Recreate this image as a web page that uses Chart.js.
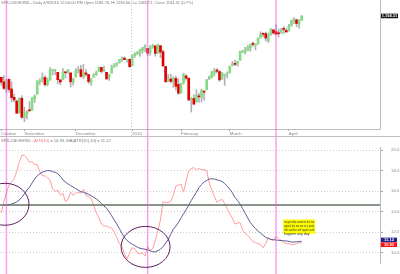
<!DOCTYPE html>
<html><head><meta charset="utf-8">
<script src="https://cdn.jsdelivr.net/npm/chart.js@4/dist/chart.umd.min.js"></script>
<style>
html,body{margin:0;padding:0;background:#fff;width:400px;height:274px;overflow:hidden}
canvas{position:absolute;left:0}
#top{top:0}#bot{top:137px}
</style></head><body>
<canvas id="top" width="400" height="137"></canvas>
<canvas id="bot" width="400" height="137"></canvas>
<script>
// ---------------- DATA ----------------
const dates = [
'10/20','10/21','10/22','10/23','10/26','10/27','10/28','10/29','10/30',
'11/2','11/3','11/4','11/5','11/6','11/9','11/10','11/11','11/12','11/13','11/16','11/17','11/18','11/19','11/20','11/23','11/24','11/25','11/27','11/30',
'12/1','12/2','12/3','12/4','12/7','12/8','12/9','12/10','12/11','12/14','12/15','12/16','12/17','12/18','12/21','12/22','12/23','12/24','12/28','12/29','12/30','12/31',
'1/4','1/5','1/6','1/7','1/8','1/11','1/12','1/13','1/14','1/15','1/19','1/20','1/21','1/22','1/25','1/26','1/27','1/28','1/29',
'2/1','2/2','2/3','2/4','2/5','2/8','2/9','2/10','2/11','2/12','2/16','2/17','2/18','2/19','2/22','2/23','2/24','2/25','2/26',
'3/1','3/2','3/3','3/4','3/5','3/8','3/9','3/10','3/11','3/12','3/15','3/16','3/17','3/18','3/19','3/22','3/23','3/24','3/25','3/26','3/29','3/30','3/31',
'4/1','4/5','4/6','4/7','4/8','4/9'];
const opens = [
1098.6,1091.4,1080.4,1095.6,1080.4,1067.5,1061.5,1043.0,1066.0,
1036.2,1040.9,1047.3,1047.3,1064.9,1072.3,1091.9,1096.0,1098.3,1087.6,1094.1,1109.2,1109.4,1106.4,1094.7,1094.9,1105.8,1106.5,1105.5,1091.1,
1098.9,1109.0,1110.6,1100.4,1105.5,1103.0,1091.1,1098.7,1103.1,1107.8,1114.1,1108.6,1106.4,1097.9,1105.3,1114.5,1118.8,1121.1,1127.5,1128.6,1125.5,1126.6,
1116.6,1132.7,1135.7,1136.3,1140.5,1146.0,1143.8,1137.3,1145.7,1147.7,1136.0,1148.0,1138.7,1115.5,1092.4,1095.8,1091.9,1096.9,1087.6,
1073.9,1090.1,1100.7,1097.3,1064.1,1065.5,1060.1,1069.7,1067.1,1076.0,1079.1,1096.1,1099.0,1105.5,1110.0,1107.5,1095.9,1101.2,1103.1,
1105.4,1117.0,1119.4,1119.1,1125.1,1138.4,1137.6,1140.2,1144.0,1151.7,1148.5,1150.8,1159.9,1166.1,1166.7,1155.4,1166.5,1172.7,1170.0,1167.6,1167.7,1173.8,1171.8,
1171.2,1178.7,1186.0,1188.2,1181.8,1187.5];
const highs = [
1098.6,1101.4,1095.2,1095.8,1091.8,1072.5,1063.3,1066.8,1070.0,
1052.2,1046.4,1061.0,1066.6,1071.5,1093.2,1096.4,1105.4,1101.2,1097.8,1113.7,1110.8,1111.1,1106.4,1094.7,1112.4,1107.6,1111.2,1105.5,1097.2,
1112.3,1115.6,1117.3,1119.1,1110.7,1103.0,1097.0,1104.3,1108.5,1114.8,1114.1,1116.2,1106.4,1103.7,1117.7,1120.3,1121.6,1126.5,1130.4,1130.4,1126.4,1127.6,
1133.9,1136.6,1139.2,1142.5,1145.4,1149.7,1143.8,1148.4,1150.4,1147.8,1150.5,1148.0,1141.6,1115.5,1103.0,1103.7,1099.5,1100.2,1096.5,
1089.4,1104.7,1102.7,1097.3,1067.1,1071.2,1079.3,1073.7,1080.0,1077.8,1095.0,1101.0,1108.2,1112.4,1112.3,1108.6,1106.4,1103.5,1107.2,
1116.1,1123.5,1125.6,1123.7,1139.4,1141.1,1145.4,1148.3,1150.2,1153.4,1151.0,1160.3,1169.8,1167.8,1169.2,1167.8,1174.7,1173.0,1180.7,1173.9,1174.9,1177.8,1174.6,
1181.4,1187.7,1191.8,1189.6,1188.6,1194.7];
const lows = [
1086.2,1079.6,1074.3,1075.5,1060.2,1060.6,1042.2,1043.0,1034.3,
1029.4,1033.9,1045.2,1047.3,1059.3,1072.3,1087.4,1091.0,1084.7,1085.3,1094.1,1102.2,1102.7,1088.4,1087.0,1094.9,1097.6,1104.8,1083.7,1086.3,
1098.9,1105.3,1098.7,1096.5,1100.8,1088.6,1085.9,1098.7,1101.3,1107.8,1105.4,1107.9,1095.9,1093.9,1105.3,1114.5,1116.0,1121.1,1123.5,1126.2,1121.9,1114.8,
1116.6,1129.7,1133.9,1131.3,1136.2,1138.7,1131.8,1133.2,1143.8,1131.4,1135.8,1129.3,1114.8,1090.2,1092.4,1089.9,1083.1,1078.5,1071.6,
1073.9,1088.0,1094.0,1062.8,1044.5,1056.5,1060.1,1059.3,1060.1,1063.0,1079.1,1094.7,1097.5,1100.8,1105.4,1092.2,1095.5,1086.0,1097.6,
1105.4,1116.5,1116.6,1116.1,1125.1,1136.8,1134.9,1140.1,1139.0,1147.0,1141.5,1150.4,1159.9,1161.9,1155.3,1152.9,1163.8,1166.0,1165.1,1161.5,1167.7,1166.6,1168.7,
1170.7,1178.7,1182.8,1177.3,1175.1,1187.2];
const closes = [
1091.1,1081.4,1092.9,1079.6,1067.0,1063.4,1042.6,1066.1,1036.2,
1042.9,1045.4,1046.5,1066.6,1069.3,1093.1,1093.0,1098.5,1087.2,1093.5,1109.3,1110.3,1109.8,1094.9,1091.4,1106.2,1105.7,1110.6,1091.5,1095.6,
1108.9,1109.2,1099.9,1106.0,1103.3,1091.9,1096.0,1102.4,1106.4,1114.1,1107.9,1109.2,1096.1,1102.5,1114.1,1118.0,1120.6,1126.5,1127.8,1126.2,1126.4,1115.1,
1133.0,1136.5,1137.1,1141.7,1145.0,1147.0,1136.2,1145.7,1148.5,1136.0,1150.2,1138.0,1116.5,1091.8,1096.8,1092.2,1097.5,1084.5,1073.9,
1089.2,1103.3,1097.3,1063.1,1066.2,1056.7,1070.5,1068.1,1078.5,1075.5,1094.9,1099.5,1106.8,1109.2,1108.0,1094.6,1105.2,1102.9,1104.5,
1115.7,1118.3,1118.8,1123.0,1138.7,1138.5,1140.5,1145.6,1150.2,1150.0,1150.5,1159.5,1166.2,1165.8,1159.9,1165.8,1174.2,1167.7,1165.7,1166.6,1173.2,1173.3,1169.4,
1178.1,1187.4,1189.4,1182.4,1186.4,1194.31];
// ATR(10)
const atr = [
13.9,15.0,15.8,16.6,16.9,17.2,17.9,18.8,19.5,
19.5,19.2,18.8,18.9,18.6,18.6,17.9,17.5,17.5,17.3,17.1,16.2,16.0,16.1,15.6,15.8,15.0,15.2,15.9,15.6,
15.8,15.9,15.8,16.2,15.6,15.5,15.3,14.6,13.9,13.4,12.8,12.6,12.6,12.5,12.4,12.0,11.5,10.9,10.6,9.9,9.4,10.0,
10.5,10.4,10.0,9.9,10.0,9.7,10.6,10.2,10.4,11.2,12.2,13.2,15.0,14.9,14.9,15.0,15.6,16.5,16.6,
16.7,15.9,17.0,18.0,18.2,18.3,18.1,18.2,18.1,18.1,18.0,16.8,16.1,15.5,14.9,15.1,15.2,14.8,14.3,
13.8,13.4,12.8,12.9,12.95,12.2,11.9,11.7,11.4,11.1,11.0,10.9,10.8,10.5,10.9,11.5,11.3,11.2,11.6,11.4,11.2,11.0,10.9,
10.9,10.8,10.8,10.9,11.0,10.93];
// MA(ATR(10),10)
const atrMA = [
null,14.6,14.65,14.7,14.75,14.85,14.95,15.15,15.4,
15.75,16.1,16.4,16.8,17.2,17.5,17.7,17.85,17.95,18.0,18.0,17.9,17.85,17.7,17.45,17.1,16.9,16.7,16.55,16.4,
16.25,16.1,15.95,15.9,15.8,15.7,15.55,15.4,15.25,15.05,14.8,14.55,14.35,14.0,13.6,13.2,12.8,12.35,11.9,11.5,11.2,11.0,
10.85,10.7,10.55,10.45,10.4,10.35,10.3,10.2,10.1,10.1,10.2,10.35,10.6,10.95,11.3,11.8,12.3,12.6,12.95,
13.4,13.8,14.2,14.65,15.1,15.5,15.9,16.35,16.65,16.9,17.05,17.2,17.2,17.2,17.1,17.05,16.95,16.75,16.5,
16.2,15.85,15.4,15.1,14.75,14.3,13.85,13.4,12.95,12.65,12.35,12.15,11.9,11.7,11.5,11.4,11.3,11.28,11.25,11.22,11.2,11.18,11.15,
11.12,11.05,11.05,11.08,11.1,11.12];
const monthTickIndex = [0, 9, 29, 51, 70, 89, 112];
const monthTickText = ['October','November','December','2010','February','March','April'];
const atrTicks = [10, 12, 14, 16, 18, 20];
const signalLevel = 14.66;
const signalBars = [2, 57, 107];
const noteText = ['we got whip sawed on the last','signal, but we are at a point','that another sell signal could','happen any day'];

// ---------------- BUILD ----------------
const TOTAL_SLOTS = 148;
const xLabels = dates.concat(Array(TOTAL_SLOTS - dates.length).fill(''));
const wick = lows.map((l, i) => [l, highs[i]]);
const body = opens.map((o, i) => [o, closes[i]]);
const FONT = 'Liberation Sans';
const last = dates.length - 1;

function vline(ctx, x, y0, y1, color, w, dash) {
  ctx.save(); ctx.strokeStyle = color; ctx.lineWidth = w; ctx.setLineDash(dash || []);
  ctx.beginPath(); ctx.moveTo(x, y0); ctx.lineTo(x, y1); ctx.stroke(); ctx.restore();
}

const topOverlay = {
  id: 'topOverlay',
  afterDatasetsDraw(chart) {
    const { ctx, chartArea: a, scales: { x, y } } = chart;
    // year separator
    vline(ctx, Math.round(x.getPixelForValue(51) - 1) + 0.5, 0, chart.height - 1, '#c4c4c4', 1, [1, 2]);
    // signal lines
    signalBars.forEach(i => vline(ctx, x.getPixelForValue(i), 0, chart.height, 'rgba(240,80,240,0.55)', 1.5));
    // separator line
    ctx.save(); ctx.strokeStyle = '#bdbdbd'; ctx.lineWidth = 1;
    ctx.beginPath(); ctx.moveTo(0, chart.height - 0.5); ctx.lineTo(chart.width, chart.height - 0.5); ctx.stroke();
    // title
    ctx.font = '4.1px "' + FONT + '"'; ctx.fillStyle = '#7a7a7a'; ctx.textBaseline = 'middle'; ctx.textAlign = 'left';
    ctx.fillText('SPX-CBOE/IND - Daily 4/9/2010 12:00:00 PM Open 1186.78, Hi 1194.66, Lo 1186.71, Close 1194.31 (0.7%)', 1, 3.2, 192);
    // price box
    const py = y.getPixelForValue(closes[last]);
    ctx.fillStyle = '#111'; ctx.fillRect(a.right + 1, py - 2.3, 17, 4.6);
    ctx.fillStyle = '#fff'; ctx.font = 'bold 4px "' + FONT + '"'; ctx.textAlign = 'center';
    ctx.fillText(closes[last].toLocaleString('en-US', { minimumFractionDigits: 2 }), a.right + 9.5, py + 0.2, 16);
    ctx.restore();
  }
};

new Chart(document.getElementById('top'), {
  type: 'bar',
  data: { labels: xLabels, datasets: [
    { data: wick, backgroundColor: '#b2b2b2', barThickness: 1, grouped: false, order: 2 },
    { data: body, backgroundColor: c => closes[c.dataIndex] >= opens[c.dataIndex] ? '#86dc86' : '#e20000',
      barThickness: 2, grouped: false, minBarLength: 1, order: 1 }
  ]},
  options: {
    responsive: false, animation: false, devicePixelRatio: 1,
    layout: { padding: 0 },
    plugins: { legend: { display: false }, tooltip: { enabled: false } },
    scales: {
      x: {
        offset: true,
        grid: { display: true, drawOnChartArea: false, offset: false, tickLength: 2, color: '#9a9a9a' },
        border: { display: true, color: '#bdbdbd' },
        ticks: { autoSkip: false, maxRotation: 0, minRotation: 0, align: 'start', padding: 0,
                 font: { size: 4.3, family: FONT }, color: '#8a8a8a',
                 callback: v => monthTickText[monthTickIndex.indexOf(v)] },
        afterBuildTicks: s => { s.ticks = monthTickIndex.map(v => ({ value: v })); },
        afterFit: s => { s.height = 8; }
      },
      y: {
        position: 'right', min: 1018, max: 1219.2,
        grid: { display: false }, ticks: { display: false },
        border: { display: true, color: '#bdbdbd' },
        afterFit: s => { s.width = 20; }
      }
    }
  },
  plugins: [topOverlay]
});

const botOverlay = {
  id: 'botOverlay',
  afterDatasetsDraw(chart) {
    const { ctx, chartArea: a, scales: { x, y } } = chart;
    ctx.save();
    // threshold line
    const ty = y.getPixelForValue(signalLevel);
    ctx.strokeStyle = '#627262'; ctx.lineWidth = 1.3;
    ctx.beginPath(); ctx.moveTo(a.left, ty); ctx.lineTo(a.right, ty); ctx.stroke();
    // signal lines
    signalBars.forEach(i => vline(ctx, x.getPixelForValue(i), 0, chart.height, 'rgba(240,80,240,0.55)', 1.5));
    // circles
    ctx.strokeStyle = '#5e1e5e'; ctx.lineWidth = 1;
    [[1.45, 14.73, 24, 21], [56.2, 10.58, 24.5, 20.5]].forEach(([i, v, rx, ry]) => {
      ctx.beginPath(); ctx.ellipse(x.getPixelForValue(i), y.getPixelForValue(v), rx, ry, 0, 0, Math.PI * 2); ctx.stroke();
    });
    // note
    const nx0 = x.getPixelForValue(109.8), nx1 = x.getPixelForValue(122.2);
    const ny0 = y.getPixelForValue(13.25), ny1 = y.getPixelForValue(11.85);
    ctx.fillStyle = '#ffff00'; ctx.fillRect(nx0, ny0, nx1 - nx0, ny1 - ny0);
    ctx.fillStyle = '#333'; ctx.font = '3.6px "' + FONT + '"'; ctx.textAlign = 'left'; ctx.textBaseline = 'middle';
    noteText.forEach((t, k) => ctx.fillText(t, nx0 + 0.8, ny0 + 2.4 + k * 4.2, nx1 - nx0 - 1.6));
    // title
    ctx.font = '4.1px "' + FONT + '"'; ctx.textBaseline = 'middle';
    const parts = [['SPX-CBOE/IND - ', '#7a7a7a'], ['ATR(10)', '#ff6a6a'],
      [' = ' + atr[last].toFixed(2) + ', MA(ATR(10),10) = ' + atrMA[last].toFixed(2), '#7a7a7a']];
    let tx = 1;
    parts.forEach(([t, c]) => { ctx.fillStyle = c; ctx.fillText(t, tx, 3.6); tx += ctx.measureText(t).width; });
    // value boxes
    let yb = y.getPixelForValue(atrMA[last]), yr = y.getPixelForValue(atr[last]);
    const h = 4.6;
    if (yr - yb < h) { const m = (yb + yr) / 2; yb = m - h / 2 - 0.1; yr = m + h / 2 + 0.1; }
    ctx.font = 'bold 4px "' + FONT + '"'; ctx.textAlign = 'center';
    ctx.fillStyle = '#23238a'; ctx.fillRect(a.right + 1, yb - h / 2, 16, h);
    ctx.fillStyle = '#fff'; ctx.fillText(atrMA[last].toFixed(2), a.right + 9, yb + 0.2, 15);
    ctx.fillStyle = '#ff1010'; ctx.fillRect(a.right + 1, yr - h / 2, 16, h);
    ctx.fillStyle = '#fff'; ctx.fillText(atr[last].toFixed(2), a.right + 9, yr + 0.2, 15);
    ctx.restore();
  }
};

new Chart(document.getElementById('bot'), {
  type: 'line',
  data: { labels: xLabels, datasets: [
    { data: atr, borderColor: '#ff9c9c', borderWidth: 1, pointRadius: 0, tension: 0, order: 2 },
    { data: atrMA, borderColor: '#5a5a94', borderWidth: 1, pointRadius: 0, tension: 0, order: 1 }
  ]},
  options: {
    responsive: false, animation: false, devicePixelRatio: 1,
    layout: { padding: 0 },
    plugins: { legend: { display: false }, tooltip: { enabled: false } },
    scales: {
      x: { offset: true, display: false },
      y: {
        position: 'right', min: 8.971, max: 20.247,
        afterBuildTicks: s => { s.ticks = atrTicks.map(v => ({ value: v })); },
        ticks: { callback: v => v.toFixed(1), font: { size: 4.3, family: FONT }, color: '#8a8a8a', padding: 8 },
        grid: { color: '#cfcfcf', tickLength: 3, tickColor: '#a0a0a0', tickBorderDash: [] },
        border: { display: true, color: '#bdbdbd', dash: [1, 2] },
        afterFit: s => { s.width = 20; }
      }
    }
  },
  plugins: [botOverlay]
});
</script>
</body></html>
